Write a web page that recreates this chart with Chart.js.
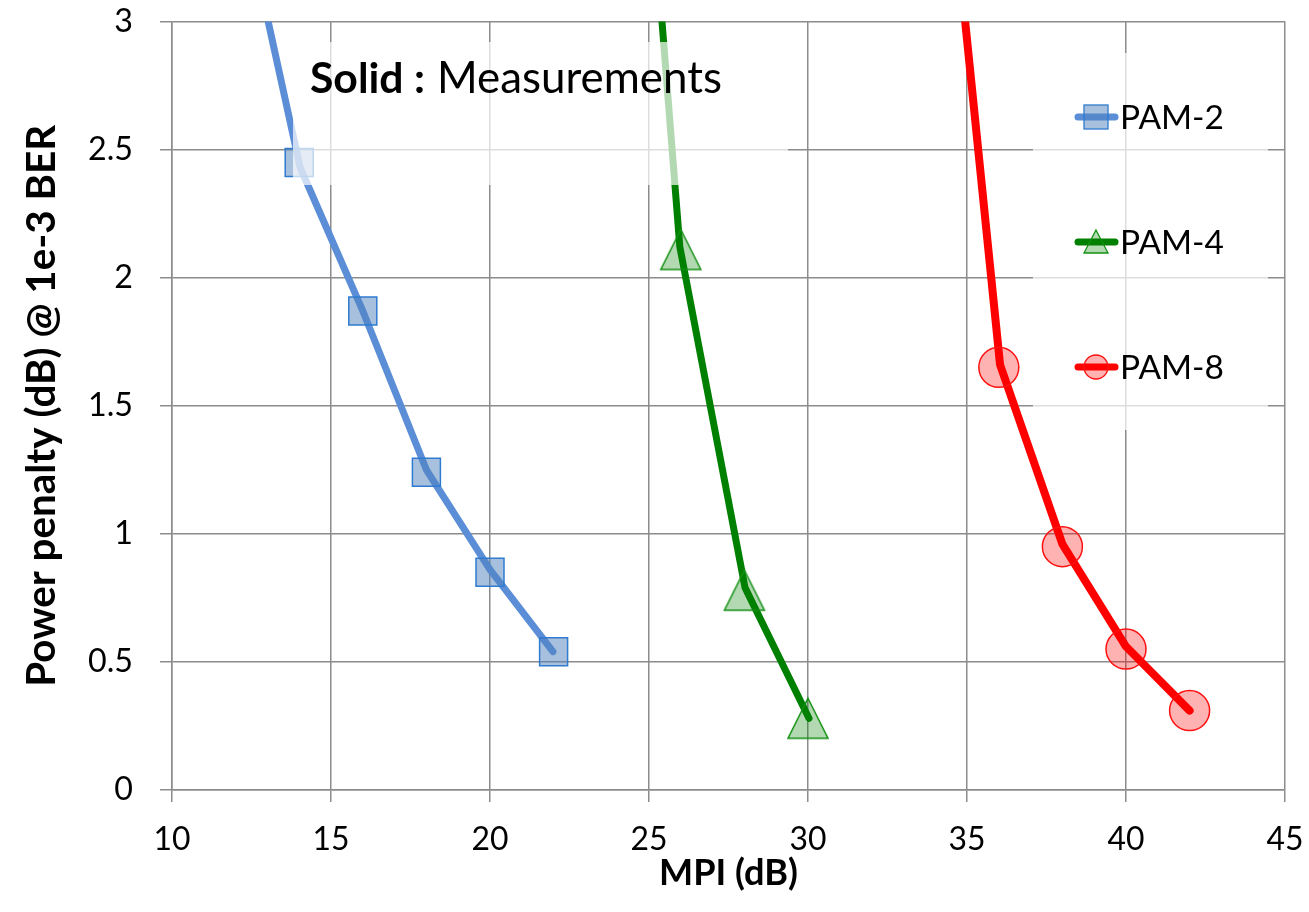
<!DOCTYPE html>
<html><head><meta charset="utf-8">
<script src="https://cdn.jsdelivr.net/npm/chart.js@4.4.0/dist/chart.umd.min.js"></script>
<style>html,body{margin:0;padding:0;background:#fff;} #wrap{width:1309px;height:912px;position:relative;}</style>
</head><body><div id="wrap"><canvas id="c"></canvas></div>
<script>
// ---------- data ----------
const xTickLabels = ['10','15','20','25','30','35','40','45'];
const yTickLabels = ['0','0.5','1','1.5','2','2.5','3'];
const seriesNames = ['PAM-2','PAM-4','PAM-8'];
// measurement markers
const pam2X = [14, 16, 18, 20, 22];
const pam2Y = [2.45, 1.87, 1.24, 0.85, 0.54];
const pam4X = [26, 28, 30];
const pam4Y = [2.11, 0.78, 0.28];
const pam8X = [36, 38, 40, 42];
const pam8Y = [1.65, 0.95, 0.55, 0.31];
// solid curves
const pam2LineX = [12, 14.03, 16, 18, 20, 21.98];
const pam2LineY = [3.58, 2.43, 1.87, 1.25, 0.86, 0.54];
const pam4LineX = [25, 25.97, 28.02, 30.03];
const pam4LineY = [3.64, 2.12, 0.79, 0.28];
const pam8LineX = [34, 36.04, 38, 40, 42];
const pam8LineY = [4.15, 1.66, 0.96, 0.56, 0.31];
const annotationBold = 'Solid :';
const annotationText = 'Measurements';
const xTitle = 'MPI (dB)';
const yTitle = 'Power penalty (dB) @ 1e-3 BER';

// ---------- styles ----------
const FAM = 'Lato';
const colors = {
  blue: '#5B8ED6', blueFill: 'rgba(79,129,189,0.5)', blueEdge: '#2E7BCF',
  green: '#008000', greenFill: 'rgba(0,128,0,0.3)', greenEdge: '#159015',
  red: '#FF0000', redFill: 'rgba(255,0,0,0.3)', redEdge: '#FF1010',
  grid: '#8c8c8c'
};
const mctx = document.createElement('canvas').getContext('2d');
function fitSize(text, weight, target) {
  mctx.font = weight + ' 100px ' + FAM;
  return 100 * target / mctx.measureText(text).width;
}
const xTickSize = fitSize('10', 'normal', 37);
const yTickSize = fitSize('2.5', 'normal', 45);
const xTitleSize = fitSize(xTitle, 'bold', 139);
const yTitleSize = fitSize(yTitle, 'bold', 562);
const measSize = fitSize(annotationText, 'normal', 285);
const solidSize = fitSize(annotationBold, 'bold', 115);
const legSize = fitSize('PAM-2', 'normal', 104);

function triCanvas(w, h, fill, stroke, lw) {
  const c = document.createElement('canvas');
  c.width = w + 4; c.height = h + 4;
  const g = c.getContext('2d');
  g.beginPath();
  g.moveTo(c.width / 2, 2); g.lineTo(w + 2, h + 2); g.lineTo(2, h + 2); g.closePath();
  g.fillStyle = fill; g.fill();
  g.lineWidth = lw; g.strokeStyle = stroke; g.stroke();
  return c;
}
const triMarker = triCanvas(40, 40, colors.greenFill, colors.greenEdge, 1.5);

function pts(xs, ys) { return xs.map((x, i) => ({x: x, y: ys[i]})); }

function lineDs(label, xs, ys, color, w) {
  return {label: label, data: pts(xs, ys), showLine: true, borderColor: color, borderWidth: w,
    pointRadius: 0, borderCapStyle: 'round', borderJoinStyle: 'round', clip: 0, order: 5, tension: 0};
}
function markDs(label, xs, ys, style, radius, fill, edge) {
  return {label: label + ' meas', data: pts(xs, ys), showLine: false, pointStyle: style,
    pointRadius: radius, pointBackgroundColor: fill, pointBorderColor: edge, pointBorderWidth: 1.5,
    order: 1};
}

// ---------- overlays: annotation box & legend ----------
const overlay = {
  id: 'overlay',
  afterDatasetsDraw(chart) {
    const ctx = chart.ctx;
    ctx.save();
    // annotation text box
    ctx.fillStyle = 'rgba(255,255,255,0.7)';
    ctx.fillRect(293, 42, 495, 143);
    ctx.fillStyle = '#000';
    ctx.textBaseline = 'alphabetic';
    ctx.textAlign = 'left';
    ctx.font = 'bold ' + solidSize + 'px ' + FAM;
    ctx.fillText(annotationBold, 310, 93);
    ctx.font = 'normal ' + measSize + 'px ' + FAM;
    ctx.fillText(annotationText, 437, 93);
    // legend box
    ctx.fillStyle = 'rgba(255,255,255,0.7)';
    ctx.fillRect(1033, 53, 235, 377);
    const ys = [117, 242, 367];
    const lc = [colors.blue, colors.green, colors.red];
    for (let i = 0; i < 3; i++) {
      const y = ys[i];
      ctx.strokeStyle = lc[i]; ctx.lineWidth = 7; ctx.lineCap = 'round';
      ctx.beginPath(); ctx.moveTo(1078, y); ctx.lineTo(1115, y); ctx.stroke();
      ctx.lineWidth = 1.3;
      if (i === 0) {
        ctx.fillStyle = colors.blueFill; ctx.strokeStyle = colors.blueEdge;
        ctx.fillRect(1084, y - 12, 24, 24); ctx.strokeRect(1084, y - 12, 24, 24);
      } else if (i === 1) {
        ctx.fillStyle = colors.greenFill; ctx.strokeStyle = colors.greenEdge;
        ctx.beginPath(); ctx.moveTo(1096, y - 12); ctx.lineTo(1108, y + 11); ctx.lineTo(1084, y + 11); ctx.closePath();
        ctx.fill(); ctx.stroke();
      } else {
        ctx.fillStyle = colors.redFill; ctx.strokeStyle = colors.redEdge;
        ctx.beginPath(); ctx.arc(1096, y, 12, 0, Math.PI * 2); ctx.fill(); ctx.stroke();
      }
      ctx.fillStyle = '#000';
      ctx.font = 'normal ' + legSize + 'px ' + FAM;
      ctx.fillText(seriesNames[i], 1120, y + 12);
    }
    ctx.restore();
  }
};

new Chart(document.getElementById('c'), {
  type: 'scatter',
  data: {
    datasets: [
      lineDs(seriesNames[0], pam2LineX, pam2LineY, colors.blue, 7),
      lineDs(seriesNames[1], pam4LineX, pam4LineY, colors.green, 7),
      lineDs(seriesNames[2], pam8LineX, pam8LineY, colors.red, 8),
      markDs(seriesNames[0], pam2X, pam2Y, 'rect', 19.8, colors.blueFill, colors.blueEdge),
      markDs(seriesNames[1], pam4X, pam4Y, triMarker, 20, colors.greenFill, colors.greenEdge),
      markDs(seriesNames[2], pam8X, pam8Y, 'circle', 20, colors.redFill, colors.redEdge)
    ]
  },
  options: {
    responsive: true, maintainAspectRatio: false, devicePixelRatio: 1, animation: false,
    layout: {padding: {top: 20, right: 24, left: 0, bottom: 0}},
    plugins: {legend: {display: false}, tooltip: {enabled: false}},
    scales: {
      x: {
        type: 'linear', min: 10, max: 45,
        ticks: {stepSize: 5, color: '#000', padding: 19, font: {family: FAM, size: xTickSize},
          callback: (v) => xTickLabels[Math.round((v - 10) / 5)]},
        grid: {color: colors.grid, lineWidth: 1.5, tickLength: 12, tickColor: colors.grid},
        border: {color: colors.grid, width: 1.5},
        title: {display: true, text: xTitle, color: '#000',
          font: {family: FAM, weight: 'bold', size: xTitleSize},
          padding: {top: 0, bottom: 39 - 0.6 * xTitleSize}},
        afterFit: (s) => { s.height = 122; s.paddingLeft = 0; s.paddingRight = 0; }
      },
      y: {
        type: 'linear', min: 0, max: 3,
        ticks: {stepSize: 0.5, color: '#000', padding: 27, font: {family: FAM, size: yTickSize},
          callback: (v) => yTickLabels[Math.round(v * 2)]},
        grid: {color: colors.grid, lineWidth: 1.5, tickLength: 12, tickColor: colors.grid},
        border: {color: colors.grid, width: 1.5},
        title: {display: true, text: yTitle, color: '#000',
          font: {family: FAM, weight: 'bold', size: yTitleSize},
          padding: {top: 42 - 0.6 * yTitleSize, bottom: 0}},
        afterFit: (s) => { s.width = 172; s.paddingTop = 0; s.paddingBottom = 0; }
      }
    }
  },
  plugins: [overlay]
});
</script>
</body></html>
